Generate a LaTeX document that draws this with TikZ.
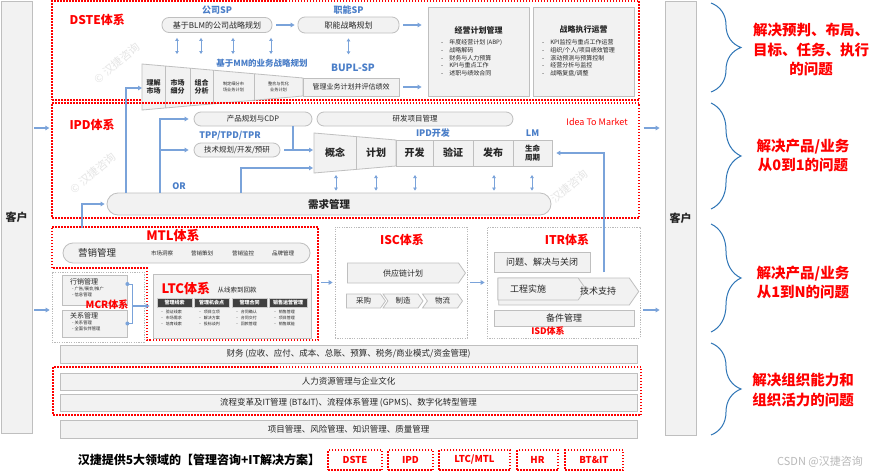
\documentclass[tikz,border=0pt]{standalone}
\usepackage{fontspec}
\setmainfont{Noto Sans CJK SC}
\usetikzlibrary{arrows.meta,shapes.symbols,decorations.pathreplacing}

\definecolor{redc}{HTML}{FF0000}
\definecolor{bluetxt}{HTML}{4A7EC8}
\definecolor{bluearr}{HTML}{7AA3DA}
\definecolor{boxgray}{HTML}{F2F2F2}
\definecolor{linegray}{HTML}{BFBFBF}
\definecolor{bracecol}{HTML}{2E75B6}
\definecolor{darkhead}{HTML}{404040}
\definecolor{txt}{HTML}{262626}

\newcommand\fsz[1]{\fontsize{#1}{#1}\selectfont}
\newcommand\fsl[2]{\fontsize{#1}{#2}\selectfont}

\begin{document}
\begin{tikzpicture}[x=1pt, y=-1pt,
  sz/.style 2 args={minimum width=#1pt, minimum height=#2pt},
  redbox/.style={draw=redc, line width=1.3pt, dash pattern=on 1.5pt off 1.5pt},
  grdot/.style={draw=gray!55, line width=0.7pt, dash pattern=on 1.2pt off 1.2pt},
  cell/.style={draw=linegray, fill=boxgray, line width=0.8pt, inner sep=0pt, align=center, text=txt},
  pill/.style={cell, rounded corners=7pt},
  chev/.style={cell, shape=signal, signal to=east, signal pointer angle=110},
  ttl/.style={text=redc, font=\bfseries\fsz{12}},
  bltxt/.style={text=bluetxt, font=\bfseries\fsz{9}},
  arr/.style={-{Triangle[length=4pt,width=4.5pt]}, draw=bluearr, line width=1.1pt},
  darr/.style={{Triangle[length=3pt,width=3.5pt]}-{Triangle[length=3pt,width=3.5pt]}, draw=bluearr, line width=0.9pt},
  ln/.style={draw=bluearr, line width=1.1pt},
  hd/.style={fill=darkhead, draw=gray!40, text=white, font=\bfseries\fsz{5}, inner sep=0pt},
  itm/.style={font=\fsl{4}{6}, align=left, anchor=north west, inner sep=0pt, text=txt},
  brc/.style={decorate, decoration={brace, amplitude=30pt}, draw=bracecol, line width=1pt},
  ans/.style={text=redc, font=\bfseries\fsl{14.5}{19.5}, align=center}
]
\fill[white] (0,0) rectangle (889,474);
\useasboundingbox (0,0) rectangle (889,474);

% watermarks
\node[text=gray!20, rotate=40, font=\fsz{11}] (wm1) at (117,63) {© 汉捷咨询};
\node[text=gray!20, rotate=40, font=\fsz{11}] (wm2) at (93,173) {© 汉捷咨询};
\node[text=gray!20, rotate=40, font=\fsz{11}] (wm3) at (565,190) {© 汉捷咨询};

% customers on both sides
\node[cell, sz={31}{432}, font=\bfseries\fsz{11}] (kh1) at (16.5,217) {客户};
\node[cell, sz={31}{434}, font=\bfseries\fsz{11}] (kh2) at (680.5,218) {客户};

% ---------------- DSTE ----------------
\node[redbox, sz={587}{99}] (dste) at (345.5,50.5) {};
\node[ttl, anchor=west] (dsteT) at (66,20) {DSTE体系};
\node[bltxt] (gsp) at (217,10) {公司SP};
\node[pill, sz={110}{15}, font=\fsz{8}] (blm) at (217,25) {基于BLM的公司战略规划};
\node[bltxt] (znsp) at (348.5,10) {职能SP};
\node[pill, sz={101}{16}, font=\fsz{8}] (znp) at (348.5,25) {职能战略规划};
\draw[arr, shorten <=4pt, shorten >=3pt] (blm) -- (znp);

\node[cell, sz={101}{89}] (jy) at (478.5,51.5) {};
\node[font=\bfseries\fsz{8}, text=txt] (jyT) at (478.5,30) {经营计划管理};
\node[itm, font=\fsl{6}{7.7}] (jyL) at (441,39.5)
  {-\quad 年度经营计划 (ABP)\\-\quad 战略解码\\-\quad 财务与人力预算\\-\quad KPI与重点工作\\-\quad 述职与绩效合同};
\node[cell, sz={101}{89}] (zx) at (583.5,51.5) {};
\node[font=\bfseries\fsz{8}, text=txt] (zxT) at (583.5,30) {战略执行运营};
\node[itm, font=\fsl{6}{7.7}] (zxL) at (542,39.5)
  {-\quad KPI监控与重点工作运营\\-\quad 组织/个人/项目绩效管理\\-\quad 滚动预测与预算控制\\-\quad 经营分析与监控\\-\quad 战略复盘/调整};
\draw[arr, shorten <=4pt, shorten >=6pt] (znp) -- (jy.west |- znp);

\foreach \x in {177,201,233,271}
  \draw[darr, shorten <=5pt] (blm.south -| \x,0) -- (\x,54);
\draw[darr, shorten <=5pt] (znp.south) -- ++(0,21);
\node[bltxt, font=\bfseries\fsz{8.5}] (mm) at (262,63) {基于MM的业务战略规划};
\node[bltxt, font=\bfseries\fsz{10}] (bupl) at (353,68) {BUPL-SP};

% business planning funnel
\draw[cell] (142,64) -- (303,78) -- (303,96) -- (142,110) -- cycle;
\foreach \x in {165,190,213,254}
  \draw[draw=linegray, line width=0.8pt] (\x,{64+(\x-142)*0.087}) -- (\x,{110-(\x-142)*0.087});
\node[font=\bfseries\fsl{7}{8.5}, align=center, text=txt] (lj) at (153.5,87) {理解\\市场};
\node[font=\bfseries\fsl{7}{8.5}, align=center, text=txt] (xf) at (177.5,87) {市场\\细分};
\node[font=\bfseries\fsl{7}{8.5}, align=center, text=txt] (zh) at (201.5,87) {组合\\分析};
\node[font=\fsl{4.2}{5.5}, align=center, text=txt] (zd) at (233.5,87) {制定细分市\\场业务计划};
\node[font=\fsl{4.2}{5.5}, align=center, text=txt] (zy) at (278.5,87) {整合与优化\\业务计划};
\node[cell, sz={96}{18}, font=\fsz{7}] (glz) at (351,87) {管理业务计划并评估绩效};
\draw[arr, shorten <=4pt, shorten >=6pt] (glz) -- (jy.west |- glz);

% ---------------- IPD ----------------
\node[redbox, sz={587}{115}] (ipd) at (345.5,160.5) {};
\node[ttl, anchor=west] (ipdT) at (66,125) {IPD体系};
\node[text=redc, font=\fsz{9}] (i2m) at (597,122) {Idea To Market};
\node[pill, sz={118}{14}, font=\fsz{7.5}] (cp) at (253,119) {产品规划与CDP};
\node[pill, sz={196}{14}, font=\fsz{7.5}] (yf) at (415,119) {研发项目管理};
\node[bltxt] (tpp) at (230,136) {TPP/TPD/TPR};
\node[pill, sz={86}{14}, font=\fsz{7.5}] (js) at (237,150) {技术规划/开发/预研};
\node[bltxt] (orT) at (179,186) {OR};

\node[pill, sz={444}{22}, rounded corners=11pt, font=\bfseries\fsz{10.5}] (xq) at (329,204) {需求管理};

% development chain
\draw[cell] (314,133) -- (396,140) -- (396,166) -- (314,173) -- cycle;
\draw[draw=linegray, line width=0.8pt] (356,136.6) -- (356,169.4);
\node[font=\bfseries\fsz{10}, text=txt] (gn) at (335,153) {概念};
\node[font=\bfseries\fsz{10}, text=txt] (jh) at (376,153) {计划};
\node[cell, sz={37}{26}, font=\bfseries\fsz{10}] (kf) at (414.5,153) {开发};
\node[cell, sz={40}{26}, font=\bfseries\fsz{10}] (yz) at (453,153) {验证};
\node[cell, sz={40}{26}, font=\bfseries\fsz{10}] (fb) at (493,153) {发布};
\node[cell, sz={39}{26}, font=\bfseries\fsl{7.5}{9}] (sm) at (532.5,153) {生命\\周期};
\node[bltxt] (ipdk) at (433,133.5) {IPD开发};
\node[bltxt] (lm) at (532.5,133.5) {LM};

\coordinate (fin) at (142,88);
\coordinate (in1) at (313,150);
\coordinate (in2) at (313,168);
\draw[arr] (xq.north -| 126,0) |- (fin);
\draw[arr, shorten >=5pt] (xq.north -| 160,0) |- (cp.west);
\draw[arr, shorten >=5pt] (js.west -| 160,0) -- (js.west);
\draw[arr, shorten <=4pt] (js.east) -- (in1);
\draw[ln] (cp.south -| 293,0) -- (in1 -| 293,0);
\draw[arr] (xq.north -| 241,0) |- (in2);
\foreach \x in {336,376,415,494,532}
  \draw[darr, shorten >=2pt] (\x,175) -- (xq.north -| \x,0);

% ---------------- MTL / LTC ----------------
\draw[redbox] (52,227) -- (318,227) -- (318,340) -- (147,340) -- (147,268) -- (52,268) -- cycle;
\coordinate (mtlN) at (82,228);
\draw[arr, shorten >=2pt] (mtlN) |- (xq.west);
\node[ttl, font=\bfseries\fsz{13}] (mtlT) at (173,235) {MTL体系};
\node[pill, sz={247}{20}, rounded corners=10pt] (yx) at (186.5,253) {};
\node[font=\fsz{9.5}, text=txt] (yxT) at (97,253) {营销管理};
\foreach \x/\t in {162/市场洞察, 202/营销策划, 243/营销监控, 283/品牌管理}
  \node[font=\fsz{5.5}, text=txt] (yx\x) at (\x,253) {\t};

\node[grdot, sz={92}{70}] (mcr) at (98,307) {};
\node[cell, sz={65}{30}] (xx) at (94.5,290) {};
\node[font=\fsz{7}, anchor=west, text=txt, inner sep=0pt] (xxT) at (70,282) {行销管理};
\node[itm, font=\fsl{4.3}{6}] (xxL) at (72,287) {-\ 广告/展会/推广\\-\ 信息管理};
\node[cell, sz={65}{27}] (gx) at (94.5,323.5) {};
\node[font=\fsz{7}, anchor=west, text=txt, inner sep=0pt] (gxT) at (70,316) {关系管理};
\node[itm, font=\fsl{4.3}{6}] (gxL) at (72,321) {-\ 关系管理\\-\ 全面伙伴管理};
\node[ttl, font=\bfseries\fsz{10}] (mcrT) at (107,305) {MCR体系};

\node[cell, sz={158}{64}] (ltc) at (232,306) {};
\coordinate (d1) at ([yshift=6pt]xx.east);
\coordinate (d2) at (gx.east);
\coordinate (jn) at (132,306);
\draw[ln, line width=0.9pt] (d1) -- ++(5,0) |- (d2);
\fill[bluearr] (d1) circle (2pt) (d2) circle (2pt);
\draw[arr, shorten >=3pt] (jn) -- (ltc.west);

\node[ttl, font=\bfseries\fsz{13}, anchor=west] (ltcT) at (158,288) {LTC体系};
\node[font=\fsz{6.5}, anchor=west, text=txt] (ltcS) at (214,290) {从线索到回款};
\node[hd, sz={35}{9}] (h1) at (174.5,302.5) {管理线索};
\node[hd, sz={35}{9}] (h2) at (211.5,302.5) {管理机会点};
\node[hd, sz={35}{9}] (h3) at (249.5,302.5) {管理合同};
\node[hd, sz={38}{9}] (h4) at (288,302.5) {销售运营管理};
\node[itm] (l1) at (160,310) {·\ \ 验证线索\\·\ \ 市场需求\\·\ \ 培育线索};
\node[itm] (l2) at (198,310) {·\ \ 项目立项\\·\ \ 解决方案\\·\ \ 投标谈判};
\node[itm] (l3) at (235,310) {·\ \ 合同确认\\·\ \ 合同交付\\·\ \ 回款管理};
\node[itm] (l4) at (273,310) {·\ \ 销售管理\\·\ \ 项目管理\\·\ \ 销售赋能};

% ---------------- ISC ----------------
\node[grdot, sz={132}{111}] (isc) at (401,282.5) {};
\node[ttl] (iscT) at (402,240) {ISC体系};
\node[chev, sz={118}{20}, font=\fsz{8}] (scp) at (403,273) {供应链计划};
\node[chev, sz={39}{14}, font=\fsz{7.5}] (cg) at (363.5,301) {采购};
\node[chev, signal from=west, sz={40}{14}, font=\fsz{7.5}] (zz) at (403,301) {制造};
\node[chev, signal from=west, sz={40}{14}, font=\fsz{7.5}] (wl) at (442.5,301) {物流};
\draw[arr, shorten <=10pt, shorten >=2pt] (ltc.east |- isc.west) -- (isc.west);

% ---------------- ITR ----------------
\node[grdot, sz={153}{111}] (itr) at (563.5,282.5) {};
\node[ttl] (itrT) at (567,240) {ITR体系};
\node[cell, sz={96}{20}, font=\fsz{9}] (wt) at (542,262) {问题、解决与关闭};
\node[chev, sz={140}{27}] (jszc) at (564,291.5) {};
\node[chev, sz={88}{22}] (gcss) at (538,289) {};
\node[font=\fsz{9}, text=txt] (gcT) at (528,289) {工程实施};
\node[font=\fsz{9}, text=txt] (jsT) at (598,291) {技术支持};
\node[cell, sz={140}{16}, font=\fsz{9}] (bj) at (564,318) {备件管理};
\node[ttl, font=\bfseries\fsz{9}] (isdT) at (548,331) {ISD体系};
\draw[arr, shorten <=3pt, shorten >=2pt] (isc.east) -- (itr.west);
\draw[arr, shorten >=4pt] (wt.south -| 604,0) |- (sm.east);

% customer arrows
\draw[arr, shorten <=2pt, shorten >=2pt] (kh1.east |- 0,128) -- (ipd.west |- 0,128);
\draw[arr, shorten <=2pt, shorten >=2pt] (kh1.east |- 0,310) -- (mcr.west |- 0,310);
\draw[arr, shorten <=4pt, shorten >=5pt] (ipd.east |- 0,128) -- (kh2.west |- 0,128);
\draw[arr, shorten <=3pt, shorten >=5pt] (itr.east |- 0,310) -- (kh2.west |- 0,310);

% ---------------- support layers ----------------
\node[cell, sz={577}{18}, font=\fsz{8.5}] (cw) at (348.5,354) {财务 (应收、应付、成本、总账、预算、税务/商业模式/资金管理)};
\node[redbox, sz={588}{48}] (hr) at (347,391) {};
\node[cell, sz={577}{17}, font=\fsz{8.5}] (rl) at (348.5,381.5) {人力资源管理与企业文化};
\node[cell, sz={577}{17}, font=\fsz{8.5}] (lc) at (348.5,402.5) {流程变革及IT管理 (BT\&IT)、流程体系管理 (GPMS)、数字化转型管理};
\node[cell, sz={577}{18}, font=\fsz{8.5}] (xm) at (348.5,429) {项目管理、风险管理、知识管理、质量管理};

\node[font=\bfseries\fsz{12}, text=black] (hj) at (199,460) {汉捷提供5大领域的【管理咨询+IT解决方案】};
\foreach \n/\x/\w/\t in {1/355/54/DSTE, 2/410.5/45/IPD, 3/474.5/71/{LTC/MTL}, 4/537.5/41/HR, 5/594/58/{BT\&IT}}
  \node[redbox, sz={\w}{20}, text=redc, font=\bfseries\fsz{9.5}] (b\n) at (\x,460) {\t};

% ---------------- right side ----------------
\draw[brc] (711,3) -- (711,92);
\draw[brc] (711,103) -- (711,209);
\draw[brc] (711,224) -- (711,332);
\draw[brc] (711,343) -- (711,435);
\node[ans] (a1) at (811,49.5) {解决预判、布局、\\目标、任务、执行\\的问题};
\node[ans] (a2) at (803,155.5) {解决产品/业务\\从0到1的问题};
\node[ans] (a3) at (803,282.5) {解决产品/业务\\从1到N的问题};
\node[ans] (a4) at (803,390) {解决组织能力和\\组织活力的问题};
\node[text=gray!55, font=\fsz{11}] (csdn) at (820,462) {CSDN @汉捷咨询};
\end{tikzpicture}
\end{document}
